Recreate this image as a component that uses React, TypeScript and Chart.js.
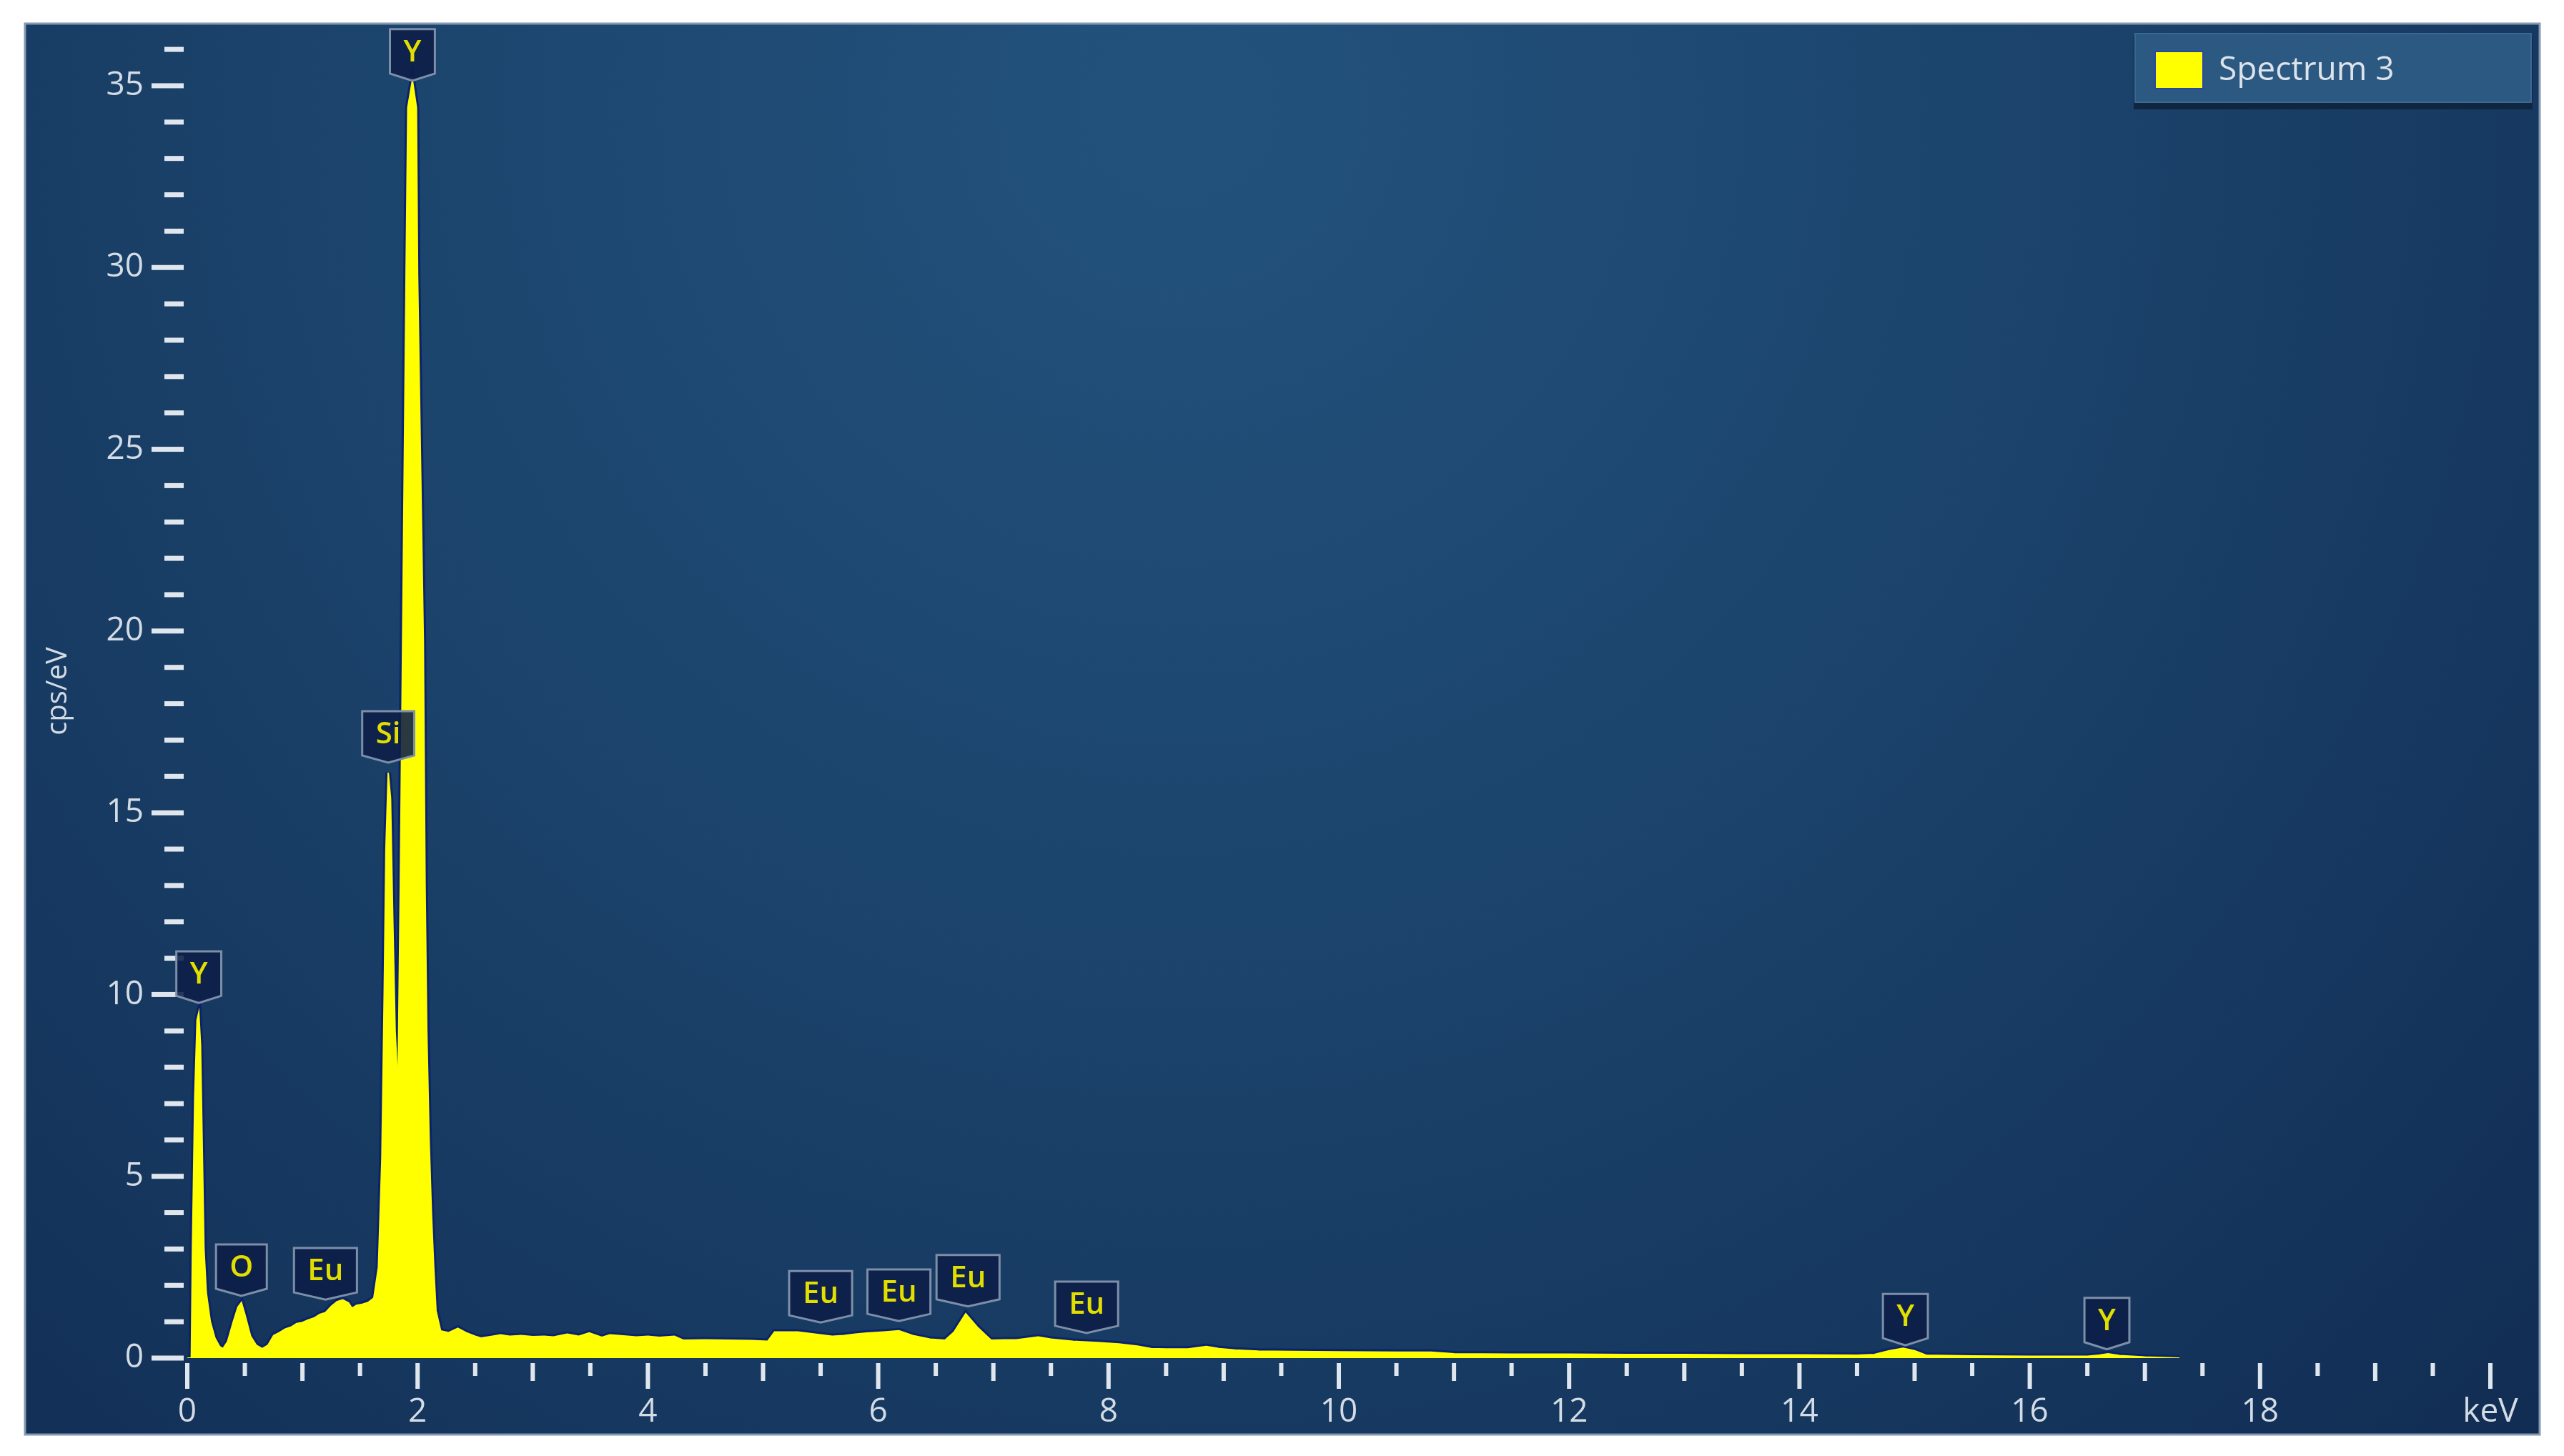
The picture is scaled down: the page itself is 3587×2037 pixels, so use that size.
import React, { useEffect, useRef } from "react";
import { Chart, registerables } from "chart.js";

Chart.register(...registerables);

// ---- Data ----
const seriesName = "Spectrum 3";

const energyKeV = [
  0.0, 0.035, 0.045, 0.065, 0.085, 0.1, 0.115, 0.13, 0.145, 0.165, 0.2, 0.24, 0.28, 0.31, 0.35, 0.4, 0.44,
  0.47, 0.5, 0.55, 0.6, 0.65, 0.7, 0.75, 0.8, 0.85, 0.9, 0.95, 1.0, 1.05, 1.1, 1.15, 1.2, 1.25, 1.3, 1.35,
  1.4, 1.43, 1.47, 1.52, 1.57, 1.62,
  1.66, 1.69, 1.71, 1.725, 1.745, 1.765, 1.785, 1.805, 1.83, 1.85, 1.87, 1.9, 1.915, 1.955, 1.99, 2.0,
  2.05, 2.065, 2.08, 2.1, 2.12, 2.14, 2.16, 2.2,
  2.27, 2.35, 2.42, 2.5, 2.55, 2.65, 2.72, 2.8, 2.9, 3.0, 3.1, 3.18, 3.3, 3.4, 3.49, 3.6, 3.67, 3.75, 3.9,
  4.0, 4.1, 4.23, 4.31, 4.5, 4.7, 4.9, 5.04, 5.1, 5.3, 5.4, 5.5, 5.6, 5.7, 5.8, 5.9, 6.05, 6.18, 6.3, 6.45,
  6.58, 6.66, 6.76, 6.86, 6.98, 7.1, 7.2, 7.39, 7.5, 7.69, 7.9, 8.09, 8.25, 8.37, 8.5, 8.69, 8.85, 8.96,
  9.1, 9.3, 9.6, 10.0, 10.5, 10.8, 11.0, 11.5, 12.0, 12.5, 13.0, 13.5, 14.0, 14.5, 14.65, 14.78, 14.9,
  15.0, 15.1, 15.5, 16.0, 16.5, 16.6, 16.68, 16.78, 17.0, 17.3,
];

const countsCpsPerEv = [
  0.0, 0.0, 3.0, 7.2, 9.3, 9.5, 8.6, 5.8, 3.0, 1.8, 1.0, 0.55, 0.32, 0.26, 0.45, 1.0, 1.4,
  1.53, 1.2, 0.6, 0.35, 0.26, 0.35, 0.62, 0.7, 0.8, 0.85, 0.95, 0.98, 1.05, 1.1, 1.2, 1.25, 1.42, 1.55, 1.6,
  1.52, 1.37, 1.45, 1.48, 1.53, 1.65,
  2.5, 5.5, 10.0, 14.0, 16.1, 15.4, 12.0, 9.0, 7.4, 13.0, 19.7, 29.8, 34.4, 35.15, 34.4, 29.8,
  19.7, 13.0, 9.0, 6.0, 4.0, 2.5, 1.3, 0.75,
  0.7, 0.82, 0.7, 0.6, 0.55, 0.6, 0.64, 0.6, 0.62, 0.59, 0.6, 0.58, 0.66, 0.6, 0.69, 0.57, 0.64, 0.62, 0.58,
  0.6, 0.57, 0.6, 0.49, 0.5, 0.49, 0.48, 0.46, 0.72, 0.72, 0.68, 0.64, 0.6, 0.62, 0.66, 0.69, 0.72, 0.75, 0.62, 0.52,
  0.49, 0.72, 1.22, 0.85, 0.49, 0.5, 0.5, 0.58, 0.52, 0.46, 0.43, 0.39, 0.33, 0.26, 0.25, 0.25, 0.32, 0.26,
  0.22, 0.19, 0.18, 0.17, 0.16, 0.16, 0.12, 0.11, 0.11, 0.1, 0.1, 0.09, 0.09, 0.08, 0.1, 0.2, 0.27,
  0.2, 0.08, 0.06, 0.05, 0.05, 0.08, 0.12, 0.07, 0.03, 0.0,
];

// Peak identification tags: element, line energy (keV), value at the tag's tip (cps/eV)
const peakElements = ["Y", "O", "Eu", "Si", "Y", "Eu", "Eu", "Eu", "Eu", "Y", "Y"];
const peakEnergyKeV = [0.1, 0.47, 1.2, 1.745, 1.955, 5.5, 6.18, 6.78, 7.81, 14.92, 16.67];
const peakTagTip = [9.77, 1.71, 1.61, 16.38, 35.14, 0.98, 1.02, 1.42, 0.69, 0.35, 0.24];

// Axis setup
const xMin = 0;
const xMax = 20;
const xLabelStep = 2;
const xMinorStep = 0.5;
const yMin = 0;
const yMax = 36.69;
const yLabelStep = 5;
const yMinorStep = 1;
const xUnitLabel = "keV";
const yTitle = "cps/eV";

// ---- Layout constants ----
const W = 3587;
const H = 2037;
const PANEL = { x: 35, y: 33, w: 3518, h: 1974 };
const FONT = "'Open Sans', 'DejaVu Sans', sans-serif";
const TEXT_COLOR = "#d3dbe5";
const TICK_COLOR = "#dfe6ee";

const backgroundPlugin = {
  id: "panelBackground",
  beforeDraw(chart: any) {
    const ctx = chart.ctx;
    ctx.save();
    ctx.fillStyle = "#ffffff";
    ctx.fillRect(0, 0, W, H);
    const g = ctx.createRadialGradient(1650, 150, 40, 1650, 150, 2700);
    g.addColorStop(0, "#22527c");
    g.addColorStop(0.45, "#1b436b");
    g.addColorStop(1, "#112c53");
    ctx.fillStyle = g;
    ctx.fillRect(PANEL.x, PANEL.y, PANEL.w, PANEL.h);
    ctx.strokeStyle = "#8599b2";
    ctx.lineWidth = 3;
    ctx.strokeRect(PANEL.x, PANEL.y, PANEL.w, PANEL.h);
    ctx.restore();
  },
};

const ticksPlugin = {
  id: "customTicks",
  afterDatasetsDraw(chart: any) {
    const ctx = chart.ctx;
    const xs = chart.scales.x;
    const ys = chart.scales.y;
    const left = chart.chartArea.left;
    const base = ys.getPixelForValue(0);
    ctx.save();
    ctx.fillStyle = TICK_COLOR;
    // y ticks
    const nY = Math.floor((yMax - yMin) / yMinorStep + 1e-9);
    for (let i = 0; i <= nY; i++) {
      const v = yMin + i * yMinorStep;
      const py = ys.getPixelForValue(v);
      const major = Math.abs(v / yLabelStep - Math.round(v / yLabelStep)) < 1e-6;
      const x0 = major ? left - 50 : left - 32;
      ctx.fillRect(x0, py - 3.5, left - 5 - x0, 7);
    }
    // x ticks
    const nX = Math.round((xMax - xMin) / xMinorStep);
    for (let i = 0; i <= nX; i++) {
      const v = xMin + i * xMinorStep;
      const px = xs.getPixelForValue(v);
      const major = Math.abs(v / xLabelStep - Math.round(v / xLabelStep)) < 1e-6;
      const mid = Math.abs(v - Math.round(v)) < 1e-6;
      const len = major ? 36 : mid ? 25 : 18;
      ctx.fillRect(px - 3, base + 7, 6, len);
    }
    ctx.restore();
  },
};

const peakTagPlugin = {
  id: "peakTags",
  afterDatasetsDraw(chart: any) {
    const ctx = chart.ctx;
    const xs = chart.scales.x;
    const ys = chart.scales.y;
    ctx.save();
    ctx.font = `600 42px ${FONT}`;
    for (let i = 0; i < peakElements.length; i++) {
      const cx = xs.getPixelForValue(peakEnergyKeV[i]);
      const tip = ys.getPixelForValue(peakTagTip[i]);
      const tw = ctx.measureText(peakElements[i]).width;
      const w = Math.max(60, tw + 38);
      const bodyH = 62;
      const pt = 10;
      const top = tip - bodyH - pt;
      ctx.beginPath();
      ctx.moveTo(cx - w / 2, top);
      ctx.lineTo(cx + w / 2, top);
      ctx.lineTo(cx + w / 2, tip - pt);
      ctx.lineTo(cx, tip);
      ctx.lineTo(cx - w / 2, tip - pt);
      ctx.closePath();
      ctx.fillStyle = "rgba(12, 30, 72, 0.88)";
      ctx.fill();
      ctx.strokeStyle = "#7d8fa8";
      ctx.lineWidth = 3;
      ctx.stroke();
      ctx.fillStyle = "#e2df00";
      ctx.textAlign = "center";
      ctx.textBaseline = "middle";
      ctx.fillText(peakElements[i], cx, top + bodyH / 2 + 2);
    }
    ctx.restore();
  },
};

const legendPlugin = {
  id: "legendBox",
  afterDraw(chart: any) {
    const ctx = chart.ctx;
    const bx = 2987, by = 47, bw = 554, bh = 96;
    ctx.save();
    ctx.fillStyle = "#102540";
    ctx.fillRect(bx - 2, by + 4, bw + 4, bh + 6);
    ctx.fillStyle = "#2c5982";
    ctx.fillRect(bx, by, bw, bh);
    ctx.strokeStyle = "#3b6890";
    ctx.lineWidth = 2;
    ctx.strokeRect(bx, by, bw, bh);
    ctx.fillStyle = "#ffff00";
    ctx.fillRect(3015, 72, 67, 52);
    ctx.strokeStyle = "#2a45a8";
    ctx.lineWidth = 2;
    ctx.strokeRect(3015, 72, 67, 52);
    ctx.fillStyle = "#dce3eb";
    ctx.font = `46px ${FONT}`;
    ctx.textAlign = "left";
    ctx.textBaseline = "middle";
    ctx.fillText(seriesName, 3104, 99);
    ctx.restore();
  },
};

export default function App() {
  const canvasRef = useRef<HTMLCanvasElement | null>(null);

  useEffect(() => {
    if (!canvasRef.current) return;
    const points = energyKeV.map((x, i) => ({ x, y: countsCpsPerEv[i] }));
    const chart = new Chart(canvasRef.current, {
      type: "line",
      data: {
        datasets: [
          {
            label: seriesName,
            data: points,
            borderColor: "#ffff00",
            backgroundColor: "#ffff00",
            borderWidth: 2,
            fill: "origin",
            pointRadius: 0,
            tension: 0,
            order: 1,
          },
          {
            label: "outline",
            data: points,
            borderColor: "#0b2270",
            borderWidth: 8,
            fill: false,
            pointRadius: 0,
            tension: 0,
            order: 2,
          },
        ],
      },
      options: {
        responsive: false,
        animation: false,
        devicePixelRatio: 1,
        layout: { padding: { left: 0, right: 103, top: 34, bottom: 0 } },
        plugins: {
          legend: { display: false },
          tooltip: { enabled: false },
        },
        scales: {
          x: {
            type: "linear",
            min: xMin,
            max: xMax,
            grid: { display: false, drawTicks: false },
            border: { display: false },
            ticks: {
              stepSize: xLabelStep,
              includeBounds: false,
              autoSkip: false,
              maxRotation: 0,
              padding: 48,
              color: TEXT_COLOR,
              font: { family: FONT, size: 46 },
              callback: (v: any) => (Number(v) === xMax ? xUnitLabel : String(v)),
            },
            afterFit: (s: any) => {
              s.height = 137;
              s.paddingLeft = 0;
              s.paddingRight = 0;
            },
          },
          y: {
            type: "linear",
            min: yMin,
            max: yMax,
            grid: { display: false, drawTicks: false },
            border: { display: false },
            ticks: {
              stepSize: yLabelStep,
              includeBounds: false,
              padding: 61,
              color: TEXT_COLOR,
              font: { family: FONT, size: 46 },
            },
            title: {
              display: true,
              text: yTitle,
              color: TEXT_COLOR,
              font: { family: FONT, size: 40 },
              padding: { top: 58, bottom: 0 },
            },
            afterFit: (s: any) => {
              s.width = 262;
              s.paddingTop = 0;
              s.paddingBottom = 0;
            },
          },
        },
      },
      plugins: [backgroundPlugin, ticksPlugin, peakTagPlugin, legendPlugin],
    });
    return () => chart.destroy();
  }, []);

  return (
    <div style={{ position: "fixed", left: 0, top: 0, width: W, height: H, background: "#ffffff" }}>
      <canvas ref={canvasRef} width={W} height={H} style={{ display: "block", width: W, height: H }} />
    </div>
  );
}
